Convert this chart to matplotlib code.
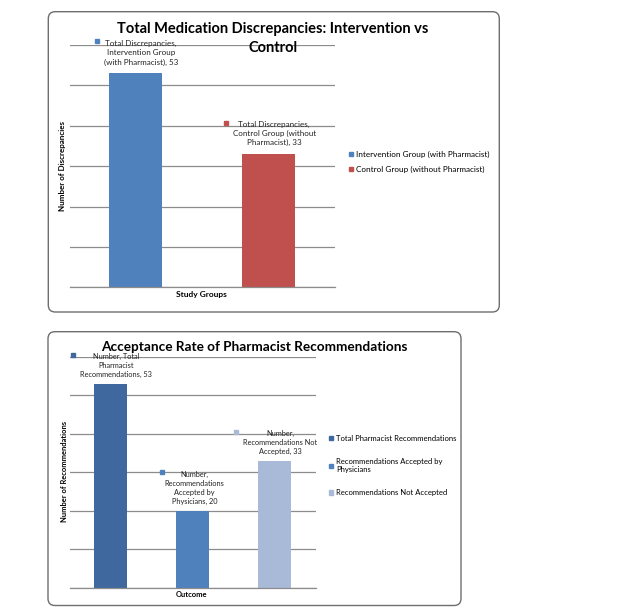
import matplotlib.pyplot as plt
from matplotlib.patches import FancyBboxPatch, Patch
from matplotlib.transforms import offset_copy

plt.rcParams['font.family'] = ['Lato', 'DejaVu Sans']

# chart 1 data
groups = ['Intervention Group (with Pharmacist)', 'Control Group (without Pharmacist)']
discrepancies = [53, 33]
group_labels = ['Total Discrepancies,\nIntervention Group\n(with Pharmacist), 53',
                'Total Discrepancies,\nControl Group (without\nPharmacist), 33']
group_colors = ['#4F81BD', '#C0504D']

# chart 2 data
outcomes = ['Total Pharmacist Recommendations',
            'Recommendations Accepted by\nPhysicians',
            'Recommendations Not Accepted']
recommendations = [53, 20, 33]
outcome_labels = ['Number, Total\nPharmacist\nRecommendations, 53',
                  'Number,\nRecommendations\nAccepted by\nPhysicians, 20',
                  'Number,\nRecommendations Not\nAccepted, 33']
outcome_colors = ['#3F689E', '#4F81BD', '#A9BAD8']

W, H = 642, 616
fig = plt.figure(figsize=(W / 100, H / 100), dpi=100, facecolor='white')


def px_axes(x0, y0, x1, y1):
    return fig.add_axes([x0 / W, 1 - y1 / H, (x1 - x0) / W, (y1 - y0) / H])


def box(x0, y0, x1, y1):
    p = FancyBboxPatch((x0 / 100, (H - y1) / 100), (x1 - x0) / 100, (y1 - y0) / 100,
                       boxstyle='round,pad=0,rounding_size=0.07',
                       transform=fig.dpi_scale_trans, fc='none', ec='#6e6e6e', lw=1.0)
    fig.patches.append(p)


def style_axes(ax, n):
    ax.set_xlim(-0.5, n - 0.5)
    ax.set_ylim(0, 60)
    ax.set_yticks(range(0, 61, 10))
    ax.set_xticks([])
    ax.tick_params(left=False, labelleft=False)
    ax.grid(axis='y', color='#8c8c8c', lw=0.9)
    ax.set_axisbelow(True)
    for s in ['top', 'right', 'left']:
        ax.spines[s].set_visible(False)
    ax.spines['bottom'].set_color('#8c8c8c')
    ax.spines['bottom'].set_linewidth(0.9)


def data_label(ax, x, y, text, color, tdx, tdy, mdx, mdy, size):
    ax.text(x, y, text, transform=offset_copy(ax.transData, fig=fig, x=tdx, y=tdy, units='dots'),
            ha='center', va='center', fontsize=size, linespacing=1.35, color='#222222')
    ax.plot([x], [y], 's', ms=2.6, color=color, clip_on=False,
            transform=offset_copy(ax.transData, fig=fig, x=mdx, y=mdy, units='dots'))


# ---- chart 1 ----
box(48.3, 11.7, 499.3, 312)
ax1 = px_axes(69.7, 45, 334.7, 287.3)
style_axes(ax1, 2)
ax1.bar(range(2), discrepancies, width=0.4, color=group_colors)
data_label(ax1, 0, discrepancies[0], group_labels[0], group_colors[0], 5, 20.3, -39.3, 32, 5.8)
data_label(ax1, 1, discrepancies[1], group_labels[1], group_colors[1], 5.7, 20.4, -42.6, 31.4, 5.8)
fig.text(273 / W, 1 - 28.5 / H, 'Total Medication Discrepancies: Intervention vs',
         ha='center', va='center', fontsize=10.5, fontweight='bold')
fig.text(273 / W, 1 - 47.5 / H, 'Control',
         ha='center', va='center', fontsize=10.5, fontweight='bold')
fig.text(63 / W, 1 - 166 / H, 'Number of Discrepancies', rotation=90, ha='center', va='center',
         fontsize=5.8, fontweight='bold')
fig.text(201 / W, 1 - 294.3 / H, 'Study Groups', ha='center', va='center', fontsize=6, fontweight='bold')
handles1 = [Patch(color=c) for c in group_colors]
ax1.legend(handles1, groups, loc='upper left', bbox_to_anchor=(349 / W, 1 - 151 / H),
           bbox_transform=fig.transFigure, frameon=False, fontsize=5.9, handlelength=0.5,
           handleheight=0.5, handletextpad=0.4, labelspacing=0.95, borderpad=0, borderaxespad=0)

# ---- chart 2 ----
box(48, 331.7, 461, 605.5)
ax2 = px_axes(69.7, 356.7, 315.7, 587.7)
style_axes(ax2, 3)
ax2.bar(range(3), recommendations, width=0.4, color=outcome_colors)
data_label(ax2, 0, recommendations[0], outcome_labels[0], outcome_colors[0], 5.2, 18.3, -37.8, 28.3, 5.3)
data_label(ax2, 1, recommendations[1], outcome_labels[1], outcome_colors[1], 1.7, 23, -31, 39, 5.3)
data_label(ax2, 2, recommendations[2], outcome_labels[2], outcome_colors[2], 5.7, 18.3, -38.3, 28.3, 5.3)
fig.text(254 / W, 1 - 346.7 / H, 'Acceptance Rate of Pharmacist Recommendations',
         ha='center', va='center', fontsize=9.8, fontweight='bold')
fig.text(64.7 / W, 1 - 471.7 / H, 'Number of Recommendations', rotation=90, ha='center', va='center',
         fontsize=5.4, fontweight='bold')
fig.text(192 / W, 1 - 594.3 / H, 'Outcome', ha='center', va='center', fontsize=5.5, fontweight='bold')
handles2 = [Patch(color=c) for c in outcome_colors]
ax2.legend(handles2, outcomes, loc='upper left', bbox_to_anchor=(329 / W, 1 - 435 / H),
           bbox_transform=fig.transFigure, frameon=False, fontsize=5.5, handlelength=0.5,
           handleheight=0.5, handletextpad=0.4, labelspacing=2.1, borderpad=0, borderaxespad=0)

fig.savefig('out.png', dpi=100, facecolor='white')
